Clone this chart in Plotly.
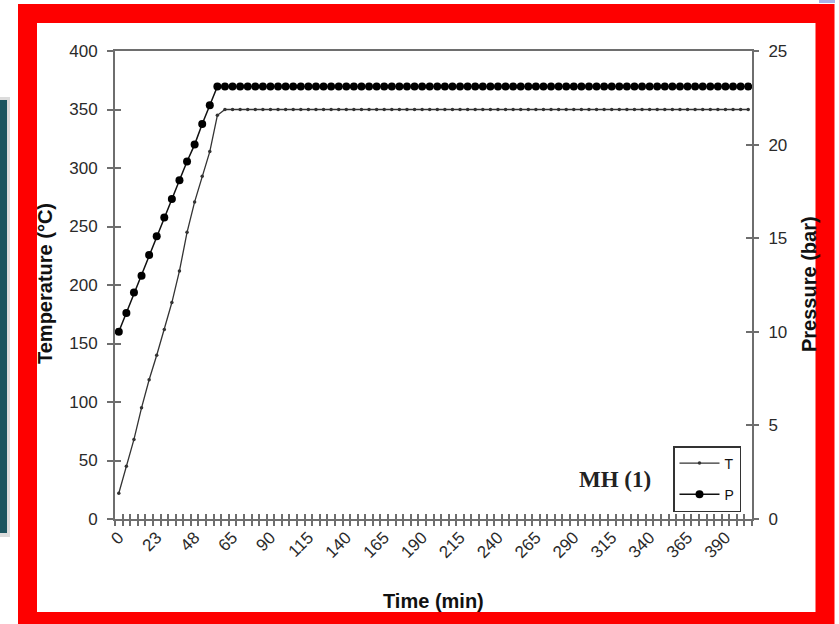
import plotly.graph_objects as go

# ---------------- data ----------------
time_min = [
    "0", "5", "10", "14", "18", "23", "28", "33", "38", "43", "48", "51", "55", "58", "62",
    "65", "70", "75", "80", "85", "90", "95", "100", "105", "110", "115", "120", "125", "130",
    "135", "140", "145", "150", "155", "160", "165", "170", "175", "180", "185", "190", "195",
    "200", "205", "210", "215", "220", "225", "230", "235", "240", "245", "250", "255", "260",
    "265", "270", "275", "280", "285", "290", "295", "300", "305", "310", "315", "320", "325",
    "330", "335", "340", "345", "350", "355", "360", "365", "370", "375", "380", "385", "390",
    "395", "400", "405",
]

temperature_c = [
    22, 45, 68, 95, 119, 140, 162, 185, 212, 245, 271, 293, 314, 345,
    350, 350, 350, 350, 350, 350, 350, 350, 350, 350,
    350, 350, 350, 350, 350, 350, 350, 350, 350, 350,
    350, 350, 350, 350, 350, 350, 350, 350, 350, 350,
    350, 350, 350, 350, 350, 350, 350, 350, 350, 350,
    350, 350, 350, 350, 350, 350, 350, 350, 350, 350,
    350, 350, 350, 350, 350, 350, 350, 350, 350, 350,
    350, 350, 350, 350, 350, 350, 350, 350, 350, 350,
]

pressure_bar = [
    10.0, 11.0, 12.1, 13.0, 14.1, 15.1, 16.1, 17.1, 18.1, 19.1, 20.0, 21.1, 22.1,
    23.1, 23.1, 23.1, 23.1, 23.1, 23.1, 23.1, 23.1, 23.1, 23.1,
    23.1, 23.1, 23.1, 23.1, 23.1, 23.1, 23.1, 23.1, 23.1, 23.1,
    23.1, 23.1, 23.1, 23.1, 23.1, 23.1, 23.1, 23.1, 23.1, 23.1,
    23.1, 23.1, 23.1, 23.1, 23.1, 23.1, 23.1, 23.1, 23.1, 23.1,
    23.1, 23.1, 23.1, 23.1, 23.1, 23.1, 23.1, 23.1, 23.1, 23.1,
    23.1, 23.1, 23.1, 23.1, 23.1, 23.1, 23.1, 23.1, 23.1, 23.1,
    23.1, 23.1, 23.1, 23.1, 23.1, 23.1, 23.1, 23.1, 23.1, 23.1,
    23.1,
]

x_tick_labels = ["0", "23", "48", "65", "90", "115", "140", "165", "190", "215", "240",
                 "265", "290", "315", "340", "365", "390"]
temp_ticks = [0, 50, 100, 150, 200, 250, 300, 350, 400]
pres_ticks = [0, 5, 10, 15, 20, 25]

# ---------------- geometry helpers (decoration only) ----------------
W, H = 839, 624
L, R, T, B = 115, 752, 51, 519


def fx(px):
    return (px - L) / (R - L)


def fy(py):
    return (B - py) / (B - T)


n = len(time_min)
x_idx = list(range(n))
label_pos = [time_min.index(s) for s in x_tick_labels]

AX = "#6e6e6e"
TICKFONT = dict(family="Liberation Sans, Arial", size=17, color="#2a2a2a")

fig = go.Figure()
fig.add_trace(go.Scatter(
    x=x_idx, y=temperature_c, name="T", mode="lines+markers",
    line=dict(color="#333333", width=1.3),
    marker=dict(size=3.5, color="#333333"),
    legendgroup="T", hoverinfo="skip",
))
fig.add_trace(go.Scatter(
    x=x_idx, y=pressure_bar, name="P", mode="lines+markers", yaxis="y2",
    line=dict(color="#111111", width=1.5),
    marker=dict(size=8, color="#000000"),
    legendgroup="P", hoverinfo="skip",
))
# empty helper traces so the overlay (inside-tick) axes are drawn
fig.add_trace(go.Scatter(x=[None], y=[None], xaxis="x2", yaxis="y3",
                         showlegend=False, hoverinfo="skip"))
fig.add_trace(go.Scatter(x=[None], y=[None], xaxis="x", yaxis="y4",
                         showlegend=False, hoverinfo="skip"))

rng_x = [-0.5, n - 0.5]

fig.update_layout(
    template="none",
    width=W, height=H,
    margin=dict(l=L, r=W - R, t=T, b=H - B, pad=0, autoexpand=False),
    paper_bgcolor="white", plot_bgcolor="white",
    xaxis=dict(
        range=rng_x, tickmode="array", tickvals=label_pos, ticktext=x_tick_labels,
        ticks="", tickangle=-45, tickfont=TICKFONT,
        showline=True, linecolor=AX, linewidth=2, mirror=True,
        showgrid=False, zeroline=False, anchor="y",
        minor=dict(tick0=-0.5, dtick=1, ticks="outside", ticklen=5,
                   tickwidth=1.5, tickcolor=AX, showgrid=False),
    ),
    xaxis2=dict(
        overlaying="x", range=rng_x, anchor="y", side="bottom",
        tickmode="linear", tick0=-0.5, dtick=1, ticks="inside", ticklen=5,
        tickwidth=1.5, tickcolor=AX, showticklabels=False,
        showline=False, showgrid=False, zeroline=False,
    ),
    yaxis=dict(
        range=[0, 400], tickmode="array", tickvals=temp_ticks,
        ticks="outside", ticklen=6, tickwidth=1.5, tickcolor=AX,
        tickfont=TICKFONT, ticklabelstandoff=6,
        showline=True, linecolor=AX, linewidth=2,
        showgrid=False, zeroline=False,
    ),
    yaxis3=dict(
        overlaying="y", range=[0, 400], side="left", anchor="x",
        tickmode="array", tickvals=temp_ticks, ticks="inside", ticklen=6,
        tickwidth=1.5, tickcolor=AX, showticklabels=False,
        showline=False, showgrid=False, zeroline=False,
    ),
    yaxis2=dict(
        overlaying="y", side="right", anchor="x", range=[0, 25],
        tickmode="array", tickvals=pres_ticks,
        ticks="outside", ticklen=5, tickwidth=1.5, tickcolor=AX,
        tickfont=TICKFONT, ticklabelstandoff=6,
        showline=True, linecolor=AX, linewidth=2,
        showgrid=False, zeroline=False,
    ),
    yaxis4=dict(
        overlaying="y", side="right", anchor="x", range=[0, 25],
        tickmode="array", tickvals=pres_ticks, ticks="inside", ticklen=6,
        tickwidth=1.5, tickcolor=AX, showticklabels=False,
        showline=False, showgrid=False, zeroline=False,
    ),
    legend=dict(
        x=fx(673), y=fy(446), xanchor="left", yanchor="top",
        bgcolor="white", bordercolor="#333333", borderwidth=1.5,
        font=dict(family="Liberation Sans, Arial", size=14, color="#111111"),
        tracegroupgap=10, itemwidth=40,
    ),
    showlegend=True,
)

# ---------------- decoration shapes ----------------
shapes = [
    # teal slide element at left with soft shadow
    dict(type="rect", xref="paper", yref="paper", x0=fx(-5), x1=fx(10), y0=fy(97), y1=fy(537),
         fillcolor="#dcdcdc", line=dict(width=0), layer="below"),
    dict(type="rect", xref="paper", yref="paper", x0=fx(-5), x1=fx(7), y0=fy(100), y1=fy(533),
         fillcolor="#1b5560", line=dict(width=0), layer="below"),
    # red frame
    dict(type="rect", xref="paper", yref="paper", x0=fx(27.5), x1=fx(825), y0=fy(13.5), y1=fy(621.5),
         fillcolor="rgba(0,0,0,0)", line=dict(color="#fe0000", width=19), layer="below"),
    # small lavender mark at top right
    dict(type="rect", xref="paper", yref="paper", x0=fx(819), x1=fx(835), y0=fy(-2), y1=fy(3),
         fillcolor="#aab2e6", line=dict(width=0), layer="below"),
]
fig.update_layout(shapes=shapes)

TITLEFONT = dict(family="Liberation Sans, Arial", size=20, color="#111111")
annotations = [
    dict(text="<b>Temperature (°C)</b>", x=fx(45), y=fy(284), xref="paper", yref="paper",
         textangle=-90, showarrow=False, font=TITLEFONT, xanchor="center", yanchor="middle"),
    dict(text="<b>Pressure (bar)</b>", x=fx(809), y=fy(284), xref="paper", yref="paper",
         textangle=-90, showarrow=False, font=TITLEFONT, xanchor="center", yanchor="middle"),
    dict(text="<b>Time (min)</b>", x=fx(433), y=fy(601), xref="paper", yref="paper",
         showarrow=False, font=TITLEFONT, xanchor="center", yanchor="middle"),
    dict(text="<b>MH (1)</b>", x=fx(615), y=fy(479), xref="paper", yref="paper",
         showarrow=False, font=dict(family="Liberation Serif, Times New Roman", size=23, color="#222222"),
         xanchor="center", yanchor="middle"),
]
fig.update_layout(annotations=annotations)

fig.write_html("out.html")
